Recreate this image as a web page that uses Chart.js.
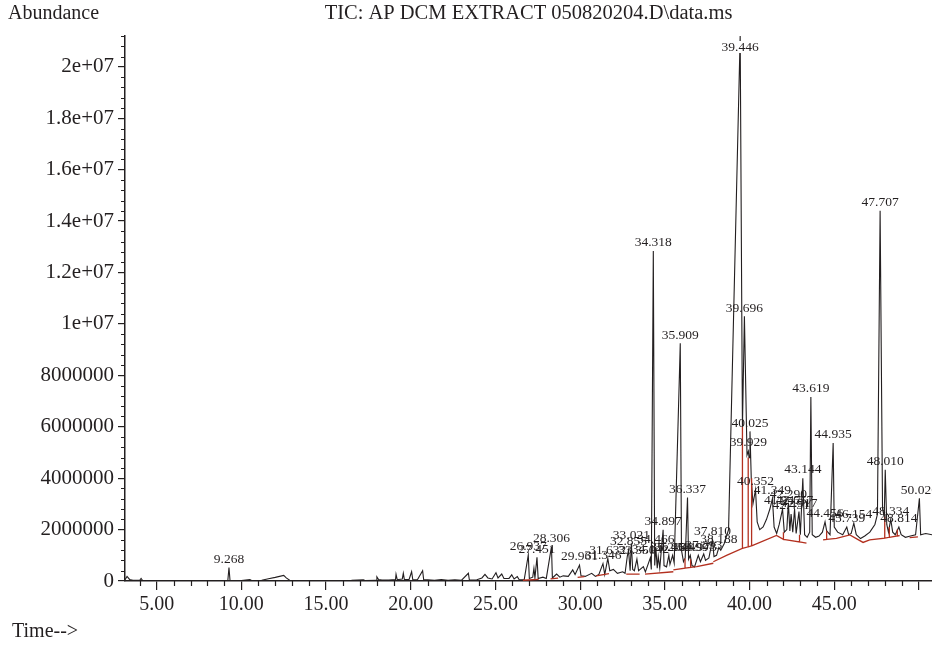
<!DOCTYPE html>
<html>
<head>
<meta charset="utf-8">
<title>TIC chromatogram</title>
<script src="https://cdn.jsdelivr.net/npm/chart.js@4.4.0/dist/chart.umd.min.js"></script>
<style>
  html, body { margin: 0; padding: 0; background: #fff; }
  #wrap { width: 932px; height: 647px; position: relative; }
</style>
</head>
<body>
<div id="wrap"><canvas id="tic"></canvas></div>
<script>
// TIC trace (time in min, abundance in counts)
const ticTime = [
  3.13, 3.25, 3.40, 3.60, 4.00, 4.08, 4.16, 5.00, 6.00, 7.00,
  8.00, 9.20, 9.268, 9.33, 10.00, 10.50, 10.60, 11.20, 11.60, 12.00,
  12.50, 12.65, 12.85, 13.50, 14.50, 15.50, 16.50, 17.20, 17.30, 17.95,
  18.00, 18.10, 18.30, 18.70, 19.10, 19.13, 19.20, 19.50, 19.56, 19.62,
  19.90, 20.05, 20.12, 20.40, 20.70, 20.76, 21.00, 21.40, 21.80, 22.20,
  22.60, 23.00, 23.40, 23.46, 23.90, 24.20, 24.38, 24.55, 24.80, 25.03,
  25.15, 25.37, 25.50, 25.80, 25.96, 26.10, 26.29, 26.40, 26.70, 26.937,
  27.00, 27.20, 27.27, 27.33, 27.451, 27.52, 27.80, 28.00, 28.306, 28.36,
  28.61, 28.80, 29.00, 29.30, 29.56, 29.70, 29.961, 30.05, 30.30, 30.68,
  30.90, 31.10, 31.346, 31.45, 31.632, 31.75, 31.96, 32.20, 32.51, 32.65,
  32.78, 32.855, 32.95, 33.021, 33.10, 33.20, 33.350, 33.45, 33.73, 33.85,
  34.142, 34.20, 34.318, 34.40, 34.466, 34.55, 34.61, 34.70, 34.897, 34.95,
  35.10, 35.234, 35.30, 35.458, 35.55, 35.85, 35.909, 35.98, 36.10, 36.20,
  36.337, 36.40, 36.499, 36.60, 36.75, 36.973, 37.10, 37.293, 37.40, 37.60,
  37.810, 37.90, 38.05, 38.188, 38.30, 38.50, 38.76, 39.446, 39.58, 39.696,
  39.85, 39.929, 39.97, 40.025, 40.10, 40.20, 40.352, 40.45, 40.60, 40.80,
  41.00, 41.20, 41.349, 41.45, 41.60, 41.75, 41.947, 42.05, 42.20, 42.290,
  42.38, 42.451, 42.55, 42.657, 42.75, 42.917, 43.00, 43.144, 43.25, 43.40,
  43.55, 43.619, 43.70, 43.90, 44.10, 44.30, 44.456, 44.55, 44.75, 44.935,
  45.00, 45.20, 45.50, 45.739, 45.85, 46.00, 46.154, 46.30, 46.55, 46.80,
  47.10, 47.40, 47.55, 47.707, 47.85, 47.95, 48.010, 48.10, 48.20, 48.334,
  48.45, 48.60, 48.814, 48.95, 49.20, 49.50, 49.80, 50.026, 50.10, 50.40,
  50.77
];
const ticAbund = [
  50000, 180000, 60000, 30000, 30000, 100000, 30000, 20000, 20000, 20000,
  20000, 20000, 520000, 20000, 20000, 60000, 20000, 30000, 90000, 140000,
  220000, 120000, 30000, 20000, 20000, 20000, 30000, 50000, 20000, 30000,
  160000, 60000, 40000, 40000, 60000, 260000, 50000, 80000, 300000, 60000,
  60000, 360000, 50000, 60000, 400000, 60000, 50000, 30000, 60000, 30000,
  50000, 30000, 300000, 40000, 50000, 120000, 260000, 120000, 80000, 320000,
  120000, 270000, 100000, 100000, 240000, 80000, 170000, 50000, 60000, 1010000,
  100000, 150000, 490000, 120000, 920000, 100000, 150000, 100000, 1340000, 120000,
  270000, 150000, 200000, 180000, 430000, 250000, 620000, 200000, 180000, 300000,
  180000, 250000, 680000, 250000, 880000, 400000, 450000, 300000, 360000, 300000,
  950000, 1200000, 400000, 1470000, 450000, 400000, 850000, 400000, 560000, 350000,
  900000, 450000, 12840000, 600000, 1300000, 500000, 950000, 500000, 1990000, 600000,
  550000, 1000000, 650000, 1000000, 700000, 7800000, 9250000, 1200000, 750000, 900000,
  3250000, 850000, 1000000, 600000, 550000, 1000000, 750000, 1050000, 800000, 900000,
  1600000, 950000, 1000000, 1300000, 1200000, 1450000, 2000000, 21200000, 6000000, 10300000,
  4900000, 5050000, 4800000, 5820000, 4000000, 3000000, 3550000, 2300000, 2000000, 2100000,
  2400000, 2800000, 3200000, 2100000, 1850000, 2200000, 2800000, 1900000, 2000000, 3050000,
  1950000, 2600000, 1900000, 2800000, 1850000, 2700000, 1800000, 4000000, 1800000, 1700000,
  1900000, 7160000, 1800000, 1700000, 1750000, 1900000, 2300000, 1950000, 1800000, 5370000,
  2100000, 1900000, 1800000, 2100000, 1800000, 1850000, 2250000, 1800000, 1650000, 1750000,
  1900000, 2200000, 2600000, 14400000, 2800000, 2500000, 4330000, 2200000, 1900000, 2400000,
  1900000, 1800000, 2100000, 1800000, 1700000, 1750000, 1800000, 3220000, 1800000, 1850000,
  1800000
];

// integration baselines (red); null abundance breaks the line
const baseTime = [
  26.62, 27.55, 27.55, 28.25, 28.70, 28.70, 29.85, 30.25, 30.25, 30.95,
  31.70, 31.70, 32.72, 33.51, 33.51, 33.83, 35.50, 35.50, 35.50, 36.19,
  36.19, 36.19, 36.19, 36.52, 36.52, 36.52, 36.52, 36.88, 37.86, 37.86,
  37.86, 38.64, 39.58, 39.58, 39.58, 39.58, 39.92, 39.92, 39.92, 39.92,
  40.12, 40.12, 40.12, 40.12, 41.59, 42.00, 42.00, 42.00, 42.00, 42.95,
  42.95, 42.95, 42.95, 43.36, 43.36, 44.34, 44.55, 44.55, 44.55, 44.55,
  45.13, 45.92, 46.70, 47.09, 47.98, 47.98, 47.98, 47.98, 48.25, 48.25,
  48.25, 48.25, 48.72, 48.72, 48.72, 48.72, 48.86, 48.86, 49.45, 49.94
];
const baseAbund = [
  30000, 60000, null, 80000, 110000, null, 140000, 170000, null, 200000,
  290000, null, 270000, 270000, null, 270000, 360000, null, 430000, 500000,
  880000, null, 500000, 530000, 850000, null, 530000, 560000, 690000, null,
  750000, 1000000, 1270000, 6000000, null, 1270000, 1330000, 4800000, null, 1330000,
  1370000, 4000000, null, 1370000, 1770000, 1620000, 1900000, null, 1620000, 1520000,
  1800000, null, 1520000, 1470000, null, 1600000, 1620000, 1950000, null, 1620000,
  1660000, 1790000, 1500000, 1600000, 1670000, 2500000, null, 1670000, 1700000, 2100000,
  null, 1700000, 1750000, 2000000, null, 1750000, 1770000, null, 1690000, 1720000
];

// retention times printed above the peaks
const peakLabels = [
  '9.268', '26.937', '27.451', '28.306', '29.961', '31.346', '31.632', '32.855',
  '33.021', '33.350', '34.142', '34.318', '34.466', '34.897', '35.234', '35.458',
  '35.909', '36.337', '36.499', '36.973', '37.293', '37.810', '38.188', '39.446',
  '39.696', '39.929', '40.025', '40.352', '41.349', '41.947', '42.290', '42.451',
  '42.657', '42.917', '43.144', '43.619', '44.456', '44.935', '45.739', '46.154',
  '47.707', '48.010', '48.334', '48.814', '50.026'
];

// axis ticks
const xMajor = [5, 10, 15, 20, 25, 30, 35, 40, 45, 50];
const yMajor = [0, 2e6, 4e6, 6e6, 8e6, 1e7, 1.2e7, 1.4e7, 1.6e7, 1.8e7, 2e7];

const titleText = 'TIC: AP DCM EXTRACT 050820204.D\\data.ms';
const FONT = '"Liberation Serif", "DejaVu Serif", serif';
const ink = '#231f20';
const baseRed = '#b3301f';

const ticPoints = ticTime.map((t, i) => ({ x: t, y: ticAbund[i] }));
const basePoints = baseTime.map((t, i) => ({ x: t, y: baseAbund[i] }));

function apexNear(rt) {
  let best = 0;
  ticTime.forEach((t, i) => {
    if (Math.abs(t - rt) < 0.02 && ticAbund[i] > best) best = ticAbund[i];
  });
  return best;
}

function fmtAbund(v) {
  if (v === 0) return '0';
  if (v < 1e7) return String(v);
  return parseFloat((v / 1e7).toFixed(2)) + 'e+07';
}

// minor ticks + free texts (Abundance, title, Time-->)
const framePlugin = {
  id: 'frame',
  afterDraw(chart) {
    const { ctx, chartArea: a, scales: { x, y } } = chart;
    ctx.save();
    ctx.strokeStyle = ink;
    ctx.lineWidth = 1.2;
    ctx.beginPath();
    for (let t = Math.ceil(x.min); t <= x.max; t++) {
      if (t % 5 === 0) continue;
      const px = Math.round(x.getPixelForValue(t)) + 0.5;
      ctx.moveTo(px, a.bottom);
      ctx.lineTo(px, a.bottom + 5);
    }
    for (let k = 1; k * 4e5 <= y.max; k++) {
      if (k % 5 === 0) continue;
      const py = Math.round(y.getPixelForValue(k * 4e5)) + 0.5;
      ctx.moveTo(a.left - 4, py);
      ctx.lineTo(a.left, py);
    }
    ctx.stroke();

    ctx.fillStyle = ink;
    ctx.font = '20px ' + FONT;
    ctx.textBaseline = 'middle';
    ctx.textAlign = 'left';
    ctx.fillText('Abundance', 8, 14);
    ctx.fillText('Time-->', 12, 632);
    ctx.font = '20.5px ' + FONT;
    ctx.textAlign = 'center';
    ctx.fillText(titleText, (a.left + a.right) / 2, 14);
    ctx.restore();
  }
};

const peakLabelPlugin = {
  id: 'peakLabels',
  afterDatasetsDraw(chart) {
    const { ctx, chartArea, scales: { x, y } } = chart;
    ctx.save();
    ctx.font = '13.5px ' + FONT;
    ctx.textAlign = 'center';
    ctx.textBaseline = 'bottom';
    peakLabels.forEach(lbl => {
      const rt = parseFloat(lbl);
      const px = x.getPixelForValue(rt);
      let py = y.getPixelForValue(Math.min(apexNear(rt), y.max)) - 1.5;
      if (py < chartArea.top + 16) {
        // peak runs off the top: label sits on the line
        py = chartArea.top + 18;
        const w = ctx.measureText(lbl).width;
        ctx.fillStyle = '#fff';
        ctx.fillRect(px - w / 2 - 1, py - 13, w + 2, 12);
      }
      ctx.fillStyle = ink;
      ctx.fillText(lbl, px, py);
    });
    ctx.restore();
  }
};

const ctx = document.getElementById('tic').getContext('2d');
const chart = new Chart(ctx, {
  type: 'line',
  data: {
    datasets: [
      {
        label: 'baseline',
        data: basePoints,
        borderColor: baseRed,
        borderWidth: 1.3,
        spanGaps: false
      },
      {
        label: 'TIC',
        data: ticPoints,
        borderColor: ink,
        borderWidth: 1.1
      }
    ]
  },
  options: {
    responsive: true,
    maintainAspectRatio: false,
    animation: false,
    layout: { padding: { top: 36, left: 0, right: 0, bottom: 0 } },
    plugins: {
      legend: { display: false },
      tooltip: { enabled: false },
      title: { display: false }
    },
    elements: {
      point: { radius: 0 },
      line: { tension: 0 }
    },
    scales: {
      x: {
        type: 'linear',
        min: 3.13,
        max: 50.77,
        afterBuildTicks: s => { s.ticks = xMajor.map(v => ({ value: v })); },
        ticks: {
          autoSkip: false,
          maxRotation: 0,
          padding: 3,
          color: ink,
          font: { family: FONT, size: 20 },
          callback: v => (v >= 50 ? '' : v.toFixed(2))
        },
        grid: { display: true, drawOnChartArea: false, drawTicks: true, tickLength: 9, color: ink, lineWidth: 1.2 },
        border: { display: true, color: ink, width: 1.5 },
        afterFit: s => { s.height = 66; }
      },
      y: {
        min: 0,
        max: 2.12e7,
        afterBuildTicks: s => { s.ticks = yMajor.map(v => ({ value: v })); },
        ticks: {
          autoSkip: false,
          padding: 4,
          color: ink,
          font: { family: FONT, size: 21 },
          callback: fmtAbund
        },
        grid: { display: true, drawOnChartArea: false, drawTicks: true, tickLength: 7, color: ink, lineWidth: 1.2 },
        border: { display: true, color: ink, width: 1.5 },
        afterFit: s => { s.width = 125; }
      }
    }
  },
  plugins: [framePlugin, peakLabelPlugin]
});
</script>
</body>
</html>
